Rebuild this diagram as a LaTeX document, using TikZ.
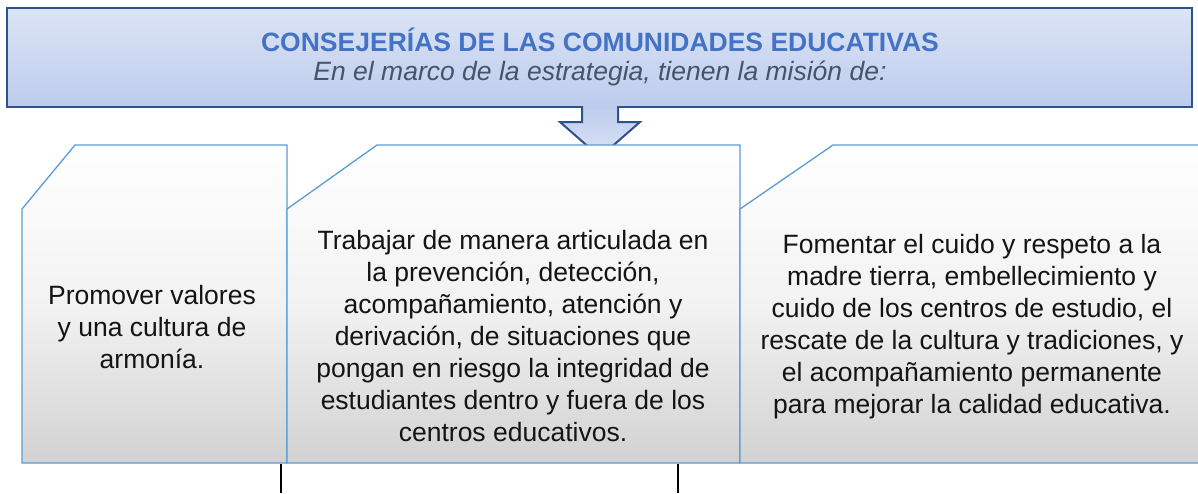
\documentclass[tikz,border=0pt]{standalone}
\usepackage{fontspec}
\setmainfont{Liberation Sans}
\usetikzlibrary{positioning}

\definecolor{bannerline}{HTML}{2F528F}
\definecolor{bannertop}{HTML}{DCE4F4}
\definecolor{bannerbot}{HTML}{BDCCEE}
\definecolor{titleblue}{HTML}{4472C4}
\definecolor{subgray}{HTML}{44546A}
\definecolor{cardline}{HTML}{5B9BD5}
\definecolor{cardbot}{HTML}{D2D2D2}

\newcommand{\txtsize}{\fontsize{26.5}{32}\selectfont}

\tikzset{
  banner/.style={draw=bannerline, line width=2.4pt, top color=bannertop, bottom color=bannerbot},
  downarrow/.style={draw=bannerline, line width=2pt, top color=bannerbot, bottom color=bannertop},
  cardbox/.style={draw=cardline, line width=1.3pt, top color=white, bottom color=cardbot, middle color=white!95!black},
  cardtext/.style={align=center, font=\txtsize, text=black!92},
  stem/.style={draw=black, line width=1.8pt},
}

\begin{document}
\begin{tikzpicture}[x=1pt, y=-1pt]
\useasboundingbox (0,0) rectangle (1198,493);
\clip (0,0) rectangle (1198,493);

%% Banner on top
\path[banner] (7,8) rectangle (1192,107);
\node[font=\txtsize\bfseries, text=titleblue] (titulo) at (600,40) {CONSEJERÍAS DE LAS COMUNIDADES EDUCATIVAS};
\node[font=\txtsize\itshape, text=subgray] (mision) at (600,73) {En el marco de la estrategia, tienen la misión de:};

%% Arrow down from the banner
\path[downarrow] (582,106) -- (582,122) -- (560,122) -- (600,157) -- (640,122) -- (618,122) -- (618,106);

%% Three cards
\path[cardbox] (22,209) -- (75,145) -- (287,145) -- (287,463) -- (22,463) -- cycle;
\path[cardbox] (287,209) -- (377,145) -- (740,145) -- (740,463) -- (287,463) -- cycle;
\path[cardbox] (740,209) -- (833,145) -- (1210,145) -- (1210,463) -- (740,463) -- cycle;

\node[cardtext] (valores) at (152,327) {Promover valores\\y una cultura de\\armonía.};
\node[cardtext] (trabajar) at (513,336) {Trabajar de manera articulada en\\la prevención, detección,\\acompañamiento, atención y\\derivación, de situaciones que\\pongan en riesgo la integridad de\\estudiantes dentro y fuera de los\\centros educativos.};
\node[cardtext] (fomentar) at (972,327) {Fomentar el cuido y respeto a la\\madre tierra, embellecimiento y\\cuido de los centros de estudio, el\\rescate de la cultura y tradiciones, y\\el acompañamiento permanente\\para mejorar la calidad educativa.};

%% Stems below the cards
\coordinate (base1) at (281,464);
\coordinate (pie1) at (281,493);
\coordinate (base2) at (678,464);
\coordinate (pie2) at (678,493);
\draw[stem] (base1) -- (pie1);
\draw[stem] (base2) -- (pie2);

\end{tikzpicture}
\end{document}
